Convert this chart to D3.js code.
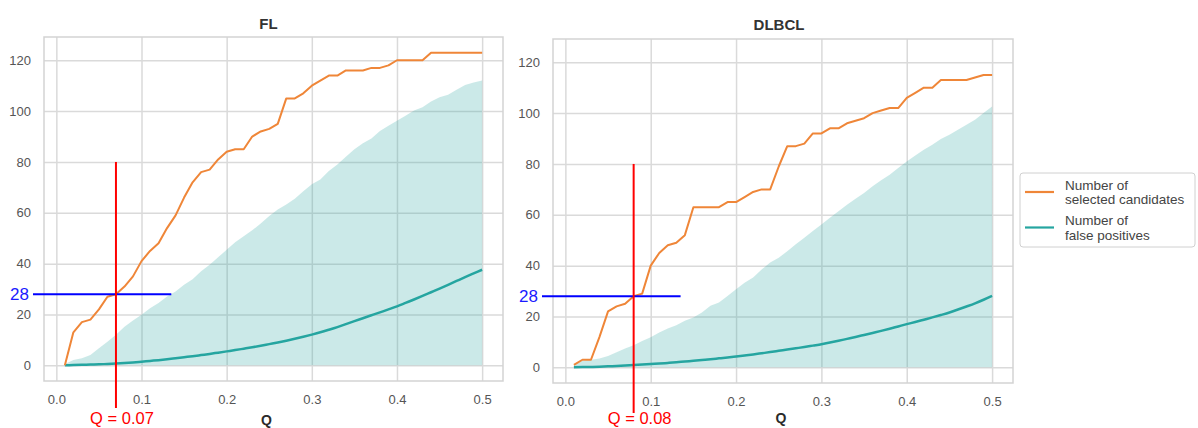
<!DOCTYPE html>
<html>
<head>
<meta charset="utf-8">
<script src="https://cdn.jsdelivr.net/npm/d3@7"></script>
<style>
  html, body { margin: 0; padding: 0; background: #ffffff; }
  svg { display: block; }
</style>
</head>
<body>
<div id="chart"></div>
<script>
// ---------------- DATA ----------------
const qLevels = [0.01,0.02,0.03,0.04,0.05,0.06,0.07,0.08,0.09,0.10,
                 0.11,0.12,0.13,0.14,0.15,0.16,0.17,0.18,0.19,0.20,
                 0.21,0.22,0.23,0.24,0.25,0.26,0.27,0.28,0.29,0.30,
                 0.31,0.32,0.33,0.34,0.35,0.36,0.37,0.38,0.39,0.40,
                 0.41,0.42,0.43,0.44,0.45,0.46,0.47,0.48,0.49,0.50];

const flSelected = [0,13,17,18,22,27,28,31,35,41,
                    45,48,54,59,66,72,76,77,81,84,
                    85,85,90,92,93,95,105,105,107,110,
                    112,114,114,116,116,116,117,117,118,120,
                    120,120,120,123,123,123,123,123,123,123];
const flFalsePos = [0.0,0.1,0.2,0.3,0.4,0.55,0.7,0.9,1.15,1.45,
                    1.75,2.05,2.4,2.8,3.2,3.6,4.05,4.5,5.0,5.5,
                    6.0,6.55,7.1,7.7,8.35,9.0,9.7,10.45,11.25,12.1,
                    13.0,14.0,15.05,16.2,17.4,18.55,19.7,20.85,22.0,23.2,
                    24.55,25.9,27.3,28.75,30.2,31.7,33.2,34.7,36.15,37.6];
const flUpper = [0.5,2.1,2.8,4.1,6.7,9.3,12.0,15.2,17.6,19.9,
                 22.5,24.5,27.1,29.1,31.7,33.9,37.0,39.6,42.5,45.5,
                 48.4,50.8,53.1,55.8,58.7,61.3,63.3,65.5,68.5,71.2,
                 73.1,76.4,79.0,82.1,85.0,87.4,89.2,92.2,94.2,96.2,
                 98.2,100.2,101.5,103.8,105.5,106.4,108.4,110.3,111.3,112.0];

const dlbclSelected = [1,3,3,12,22,24,25,28,29,40,
                       45,48,49,52,63,63,63,63,65,65,
                       67,69,70,70,79,87,87,88,92,92,
                       94,94,96,97,98,100,101,102,102,106,
                       108,110,110,113,113,113,113,114,115,115];
const dlbclFalsePos = [0.0,0.1,0.15,0.25,0.4,0.55,0.7,0.9,1.1,1.3,
                       1.5,1.75,2.0,2.3,2.6,2.9,3.2,3.55,3.9,4.3,
                       4.7,5.1,5.55,6.0,6.5,7.0,7.5,8.0,8.55,9.1,
                       9.75,10.45,11.2,11.95,12.75,13.55,14.35,15.2,16.1,17.0,
                       17.85,18.75,19.65,20.6,21.6,22.75,23.95,25.2,26.6,28.1];
const dlbclUpper = [1.0,2.6,3.0,3.5,4.5,5.9,7.4,8.7,10.4,11.8,
                    13.7,15.3,16.6,18.3,19.6,21.6,24.2,25.5,28.1,30.7,
                    33.3,35.3,38.5,41.2,43.1,45.7,48.4,51.0,53.6,56.2,
                    58.8,61.4,64.0,66.3,68.6,71.2,73.6,75.8,78.4,81.0,
                    83.3,85.6,87.6,89.8,91.5,93.5,95.4,97.4,100.0,102.6];

const panelTitles = ["FL", "DLBCL"];
const xTicks = [0.0, 0.1, 0.2, 0.3, 0.4, 0.5];
const xTickLabels = ["0.0", "0.1", "0.2", "0.3", "0.4", "0.5"];
const yTicks = [0, 20, 40, 60, 80, 100, 120];
const yTickLabels = ["0", "20", "40", "60", "80", "100", "120"];
const xAxisLabel = "Q";

const cutoffQ = [0.07, 0.08];
const cutoffCount = [28, 28];
const cutoffLabels = ["Q = 0.07", "Q = 0.08"];
const cutoffLineTop = 80;      // red line top (data units)
const countLineEndQ = 0.135;   // blue line end (data units)

const legendLabels = [["Number of", "selected candidates"], ["Number of", "false positives"]];

// ---------------- STYLE / LAYOUT ----------------
const W = 1198, H = 428;
const orange = "#ef8638";
const teal = "#25a5a0";
const fillTeal = "#2fa6a3";
const gridColor = "#dadada";
const tickColor = "#555555";
const fontFamily = "'Liberation Sans', Arial, sans-serif";

const xDomain = [-0.0145, 0.5245];
const yDomain = [-6.15, 129.15];

const layouts = [
  { left: 44,  right: 503,  top: 37, bottom: 381, titleDx: -5, titleY: 29, xlabY: 425, xlabDx: -7 },
  { left: 553, right: 1013, top: 39, bottom: 383, titleDx: -4, titleY: 30, xlabY: 423, xlabDx: -2 }
];

const panelData = [
  { sel: flSelected, fp: flFalsePos, up: flUpper },
  { sel: dlbclSelected, fp: dlbclFalsePos, up: dlbclUpper }
];

const svg = d3.select("#chart").append("svg")
  .attr("width", W).attr("height", H)
  .style("font-family", fontFamily);

svg.append("rect").attr("width", W).attr("height", H).attr("fill", "#ffffff");

layouts.forEach((L, pi) => {
  const d = panelData[pi];
  const x = d3.scaleLinear().domain(xDomain).range([L.left, L.right]);
  const y = d3.scaleLinear().domain(yDomain).range([L.bottom, L.top]);
  const g = svg.append("g");

  // grid via axes
  const gx = g.append("g")
    .attr("transform", `translate(0,${L.bottom})`)
    .call(d3.axisBottom(x).tickValues(xTicks)
      .tickSize(-(L.bottom - L.top)).tickPadding(14)
      .tickFormat((v, i) => xTickLabels[i]));
  gx.select(".domain").remove();
  gx.selectAll(".tick line").attr("stroke", gridColor).attr("stroke-width", 1.5);
  gx.selectAll(".tick text").attr("fill", tickColor).attr("font-size", 13)
    .attr("font-family", fontFamily);

  const gy = g.append("g")
    .attr("transform", `translate(${L.left},0)`)
    .call(d3.axisLeft(y).tickValues(yTicks)
      .tickSize(-(L.right - L.left)).tickPadding(13)
      .tickFormat((v, i) => yTickLabels[i]));
  gy.select(".domain").remove();
  gy.selectAll(".tick line").attr("stroke", gridColor).attr("stroke-width", 1.5);
  gy.selectAll(".tick text").attr("fill", tickColor).attr("font-size", 13)
    .attr("font-family", fontFamily);

  // frame
  g.append("rect")
    .attr("x", L.left).attr("y", L.top)
    .attr("width", L.right - L.left).attr("height", L.bottom - L.top)
    .attr("fill", "none").attr("stroke", "#d3d3d3").attr("stroke-width", 1.5);

  // band area
  const area = d3.area()
    .x((v, i) => x(qLevels[i]))
    .y0(() => y(0))
    .y1(v => y(v));
  g.append("path").datum(d.up)
    .attr("d", area)
    .attr("fill", fillTeal).attr("fill-opacity", 0.25);

  const line = d3.line().x((v, i) => x(qLevels[i])).y(v => y(v));
  const smooth = d3.line().curve(d3.curveMonotoneX).x((v, i) => x(qLevels[i])).y(v => y(v));
  g.append("path").datum(d.fp)
    .attr("d", smooth).attr("fill", "none")
    .attr("stroke", teal).attr("stroke-width", 2.5).attr("stroke-linejoin", "round");
  g.append("path").datum(d.sel)
    .attr("d", line).attr("fill", "none")
    .attr("stroke", orange).attr("stroke-width", 2).attr("stroke-linejoin", "round");

  // titles
  const cx = (L.left + L.right) / 2;
  g.append("text").attr("x", cx + L.titleDx).attr("y", L.titleY)
    .attr("text-anchor", "middle").attr("font-size", 15).attr("font-weight", "bold")
    .attr("fill", "#333333").text(panelTitles[pi]);
  g.append("text").attr("x", cx + L.xlabDx).attr("y", L.xlabY)
    .attr("text-anchor", "middle").attr("font-size", 14).attr("font-weight", "bold")
    .attr("fill", "#2a2a2a").text(xAxisLabel);

  // annotations
  const ann = svg.append("g");
  const qx = x(cutoffQ[pi]);
  const cy = y(cutoffCount[pi]);
  ann.append("line")
    .attr("x1", L.left - 11).attr("x2", x(countLineEndQ))
    .attr("y1", cy).attr("y2", cy)
    .attr("stroke", "#0000ff").attr("stroke-width", 2);
  ann.append("text")
    .attr("x", L.left - 15).attr("y", cy).attr("dy", "0.36em")
    .attr("text-anchor", "end").attr("font-size", 17).attr("fill", "#1a1aff")
    .text(String(cutoffCount[pi]));
  ann.append("line")
    .attr("x1", qx).attr("x2", qx)
    .attr("y1", y(cutoffLineTop)).attr("y2", L.bottom + 27 + pi * 3)
    .attr("stroke", "#ff0000").attr("stroke-width", 2);
  ann.append("text")
    .attr("x", qx + 6).attr("y", 424)
    .attr("text-anchor", "middle").attr("font-size", 16.5).attr("fill", "#ff0000")
    .text(cutoffLabels[pi]);
});

// legend
const lg = svg.append("g");
lg.append("rect").attr("x", 1020).attr("y", 173).attr("width", 175).attr("height", 74)
  .attr("rx", 3).attr("fill", "#ffffff").attr("stroke", "#d0d0d0").attr("stroke-width", 1);
const legendColors = [orange, teal];
legendLabels.forEach((lines, i) => {
  const cyL = 192 + i * 35.5;
  lg.append("line").attr("x1", 1025).attr("x2", 1054).attr("y1", cyL).attr("y2", cyL)
    .attr("stroke", legendColors[i]).attr("stroke-width", 2.2);
  lines.forEach((t, j) => {
    lg.append("text").attr("x", 1065).attr("y", cyL - 7 + j * 14.3).attr("dy", "0.35em")
      .attr("font-size", 13.5).attr("fill", "#444444").text(t);
  });
});
</script>
</body>
</html>
